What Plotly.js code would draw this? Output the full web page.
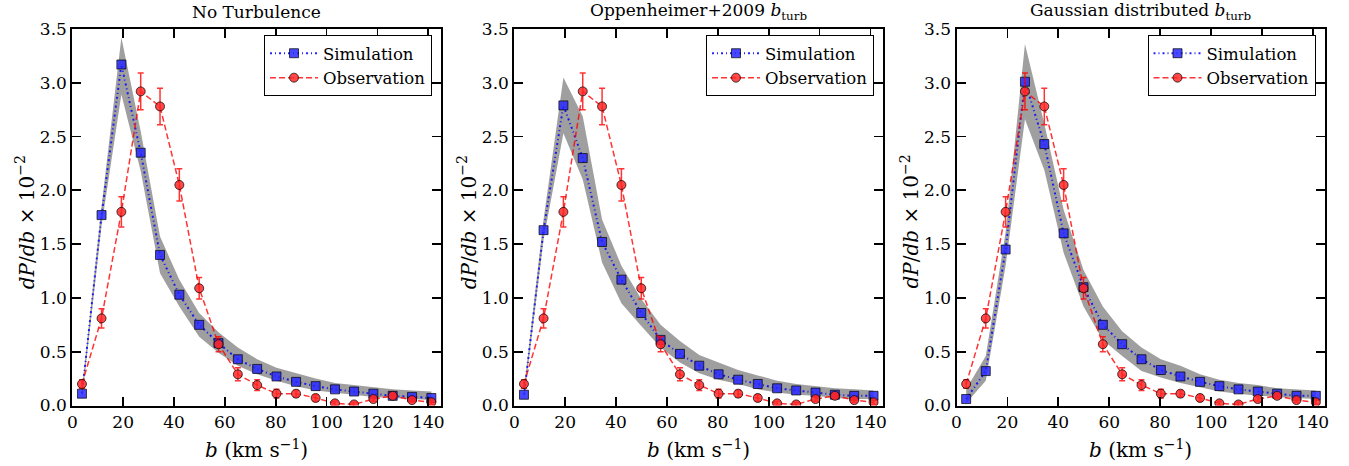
<!DOCTYPE html>
<html>
<head>
<meta charset="utf-8">
<script src="https://cdn.plot.ly/plotly-3.0.1.min.js"></script>
<style>html,body{margin:0;padding:0;background:#fff;}#chart{width:1349px;height:466px;}</style>
</head>
<body>
<div id="chart"></div>
<script>
// ---- data ----
const bCenters = [3.8, 11.5, 19.3, 26.9, 34.5, 42.1, 49.9, 57.5, 65.1, 72.7, 80.3, 88.0, 95.7, 103.3, 110.8, 118.4, 126.0, 133.6, 141.2];

const obsValues = [0.20, 0.81, 1.80, 2.92, 2.78, 2.05, 1.09, 0.57, 0.29, 0.19, 0.11, 0.11, 0.07, 0.02, 0.01, 0.06, 0.09, 0.05, 0.03];
const obsErrors = [0.04, 0.09, 0.14, 0.17, 0.17, 0.15, 0.10, 0.07, 0.06, 0.05, 0.04, 0.03, 0.03, 0.02, 0.02, 0.02, 0.02, 0.02, 0.02];

const simNoTurb = [0.11, 1.77, 3.17, 2.35, 1.40, 1.03, 0.75, 0.58, 0.43, 0.34, 0.27, 0.22, 0.18, 0.15, 0.13, 0.11, 0.09, 0.08, 0.07];
const bandNoTurbLow = [0.05, 1.67, 2.89, 2.18, 1.23, 0.92, 0.64, 0.49, 0.37, 0.29, 0.23, 0.18, 0.14, 0.12, 0.10, 0.08, 0.07, 0.06, 0.05];
const bandNoTurbHigh = [0.15, 1.85, 3.42, 2.55, 1.57, 1.17, 0.86, 0.68, 0.54, 0.43, 0.35, 0.30, 0.25, 0.21, 0.19, 0.17, 0.15, 0.14, 0.13];

const simOpp = [0.10, 1.63, 2.79, 2.30, 1.52, 1.17, 0.86, 0.61, 0.48, 0.37, 0.29, 0.24, 0.20, 0.16, 0.14, 0.12, 0.10, 0.09, 0.09];
const bandOppLow = [0.05, 1.54, 2.53, 2.10, 1.33, 0.95, 0.74, 0.54, 0.40, 0.30, 0.24, 0.20, 0.15, 0.12, 0.10, 0.09, 0.07, 0.06, 0.06];
const bandOppHigh = [0.15, 1.73, 3.05, 2.69, 1.73, 1.30, 0.99, 0.75, 0.60, 0.47, 0.40, 0.33, 0.28, 0.23, 0.20, 0.18, 0.16, 0.15, 0.14];

const simGauss = [0.06, 0.32, 1.45, 3.01, 2.43, 1.60, 1.10, 0.75, 0.57, 0.43, 0.33, 0.27, 0.22, 0.18, 0.15, 0.13, 0.11, 0.09, 0.09];
const bandGaussLow = [0.02, 0.23, 1.30, 2.66, 2.19, 1.42, 0.92, 0.61, 0.46, 0.32, 0.26, 0.21, 0.17, 0.13, 0.11, 0.09, 0.08, 0.07, 0.06];
const bandGaussHigh = [0.15, 0.46, 1.61, 3.36, 2.62, 1.82, 1.26, 0.92, 0.69, 0.54, 0.43, 0.37, 0.29, 0.24, 0.21, 0.19, 0.16, 0.15, 0.14];

const panelTitles = ['No Turbulence', 'Oppenheimer+2009 <i>b</i><sub>turb</sub>', 'Gaussian distributed <i>b</i><sub>turb</sub>'];
const xTickVals = [0, 20, 40, 60, 80, 100, 120, 140];
const yTickVals = [0.0, 0.5, 1.0, 1.5, 2.0, 2.5, 3.0, 3.5];
const seriesNames = ['Simulation', 'Observation'];

// ---- build ----
const W = 1349, H = 466;
const FONT = 'DejaVu Serif, Liberation Serif, serif';
const panels = [
  {sim: simNoTurb, lo: bandNoTurbLow, hi: bandNoTurbHigh, left: 72.3, right: 440.5, legRight: 432},
  {sim: simOpp, lo: bandOppLow, hi: bandOppHigh, left: 514.3, right: 882.7, legRight: 874},
  {sim: simGauss, lo: bandGaussLow, hi: bandGaussHigh, left: 956.5, right: 1325, legRight: 1315.5}
];
const plotTop = 29, plotBot = 405.5;

const traces = [];
const layout = {
  width: W, height: H,
  margin: {l: 0, r: 0, t: 0, b: 0},
  paper_bgcolor: '#fff', plot_bgcolor: '#fff',
  font: {family: FONT, color: '#000', size: 17},
  showlegend: true,
  annotations: []
};

panels.forEach((p, i) => {
  const sfx = i === 0 ? '' : String(i + 1);
  const xa = 'x' + sfx, ya = 'y' + sfx;
  const leg = 'legend' + sfx;
  // band
  traces.push({x: bCenters, y: p.lo, xaxis: xa, yaxis: ya, legend: leg, mode: 'lines', line: {width: 0, color: 'rgba(0,0,0,0)'}, showlegend: false, hoverinfo: 'skip'});
  traces.push({x: bCenters, y: p.hi, xaxis: xa, yaxis: ya, legend: leg, mode: 'lines', line: {width: 0, color: 'rgba(0,0,0,0)'}, fill: 'tonexty', fillcolor: 'rgba(135,135,135,0.8)', showlegend: false, hoverinfo: 'skip'});
  // simulation
  traces.push({x: bCenters, y: p.sim, xaxis: xa, yaxis: ya, name: seriesNames[0], legend: leg,
    mode: 'lines+markers',
    line: {color: 'rgba(0,0,255,0.85)', width: 2, dash: '2px,3px,1px,3px'},
    marker: {symbol: 'square', size: 9, color: 'rgba(40,40,255,0.85)', line: {color: 'rgba(0,0,0,0.7)', width: 1}}});
  // observation
  traces.push({x: bCenters, y: obsValues, xaxis: xa, yaxis: ya, name: seriesNames[1], legend: leg,
    mode: 'lines+markers',
    line: {color: 'rgba(255,0,0,0.8)', width: 1.5, dash: '6px,3px'},
    marker: {symbol: 'circle', size: 9, color: 'rgba(255,40,40,0.85)', line: {color: 'rgba(0,0,0,0.7)', width: 1}},
    error_y: {type: 'data', array: obsErrors, visible: true, color: 'rgba(255,0,0,0.8)', thickness: 1.5, width: 3}});

  layout['xaxis' + sfx] = {
    domain: [p.left / W, p.right / W], anchor: ya,
    range: [0, 144.8], tickvals: xTickVals, ticktext: xTickVals.map(String),
    ticks: 'inside', ticklen: 9, tickwidth: 1.8, tickcolor: '#000',
    showline: true, linewidth: 2, linecolor: '#000', mirror: 'allticks',
    showgrid: false, zeroline: false, tickfont: {size: 17, family: FONT}
  };
  layout['yaxis' + sfx] = {
    domain: [1 - plotBot / H, 1 - plotTop / H], anchor: xa,
    range: [0, 3.5], tickvals: yTickVals, ticktext: yTickVals.map(v => v.toFixed(1)),
    ticks: 'inside', ticklen: 9, tickwidth: 1.8, tickcolor: '#000',
    showline: true, linewidth: 2, linecolor: '#000', mirror: 'allticks',
    showgrid: false, zeroline: false, tickfont: {size: 17, family: FONT}
  };
  layout[leg] = {
    x: p.legRight / W, xanchor: 'right', y: 1 - 35 / H, yanchor: 'top',
    bgcolor: '#fff', bordercolor: '#000', borderwidth: 1, traceorder: 'normal',
    font: {family: FONT, size: 16.5}, itemwidth: 48, tracegroupgap: 0
  };
  const cx = (p.left + p.right) / 2 / W;
  layout.annotations.push({text: panelTitles[i], xref: 'paper', yref: 'paper', x: cx, y: 1 - 12 / H, xanchor: 'center', yanchor: 'middle', showarrow: false, font: {family: FONT, size: 17}});
  layout.annotations.push({text: '<i>b</i> (km s<sup>\u22121</sup>)', xref: 'paper', yref: 'paper', x: cx, y: 1 - 449 / H, xanchor: 'center', yanchor: 'middle', showarrow: false, font: {family: FONT, size: 20}});
  layout.annotations.push({text: '<i>dP</i>/<i>db</i> \u00d7 10<sup>\u22122</sup>', xref: 'paper', yref: 'paper', x: (p.left - 47) / W, y: 1 - 222 / H, xanchor: 'center', yanchor: 'middle', textangle: -90, showarrow: false, font: {family: FONT, size: 20}});
});

Plotly.newPlot('chart', traces, layout, {displayModeBar: false, staticPlot: true});
</script>
</body>
</html>
